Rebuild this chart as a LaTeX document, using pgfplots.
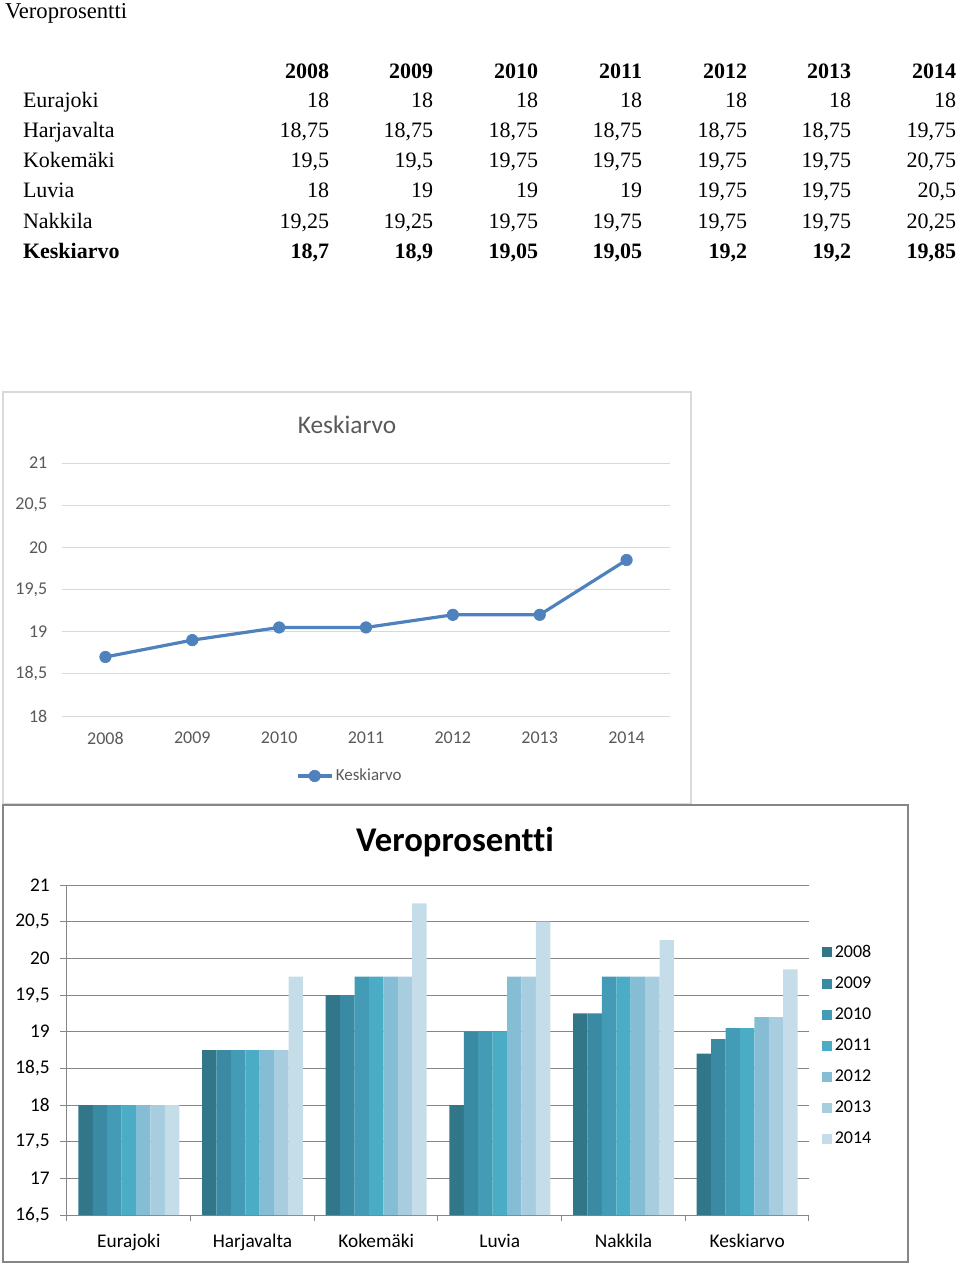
\documentclass[border=0pt]{standalone}
\usepackage{pgfplots}
\pgfplotsset{compat=1.18}
\usepackage{fontspec}
\setmainfont{Liberation Serif}
\newfontfamily\calibri[Ligatures=NoCommon]{Carlito}
\definecolor{c08}{RGB}{49,119,137}
\definecolor{c09}{RGB}{57,138,162}
\definecolor{c10}{RGB}{67,155,182}
\definecolor{c11}{RGB}{75,172,198}
\definecolor{c12}{RGB}{133,190,212}
\definecolor{c13}{RGB}{167,205,222}
\definecolor{c14}{RGB}{197,221,232}
\definecolor{lineblue}{RGB}{79,129,189}
\definecolor{lgrid}{RGB}{217,217,217}
\definecolor{bgrid}{RGB}{134,134,134}
\definecolor{labgrey}{RGB}{89,89,89}
\def\tf{}
\newcommand\trow[9]{%
  \node[anchor=base west,font=\fontsize{16.5}{19}\selectfont\tf] at (23,#1) {#2};
  \node[anchor=base east,font=\fontsize{16.5}{19}\selectfont\tf] at (329,#1) {#3};
  \node[anchor=base east,font=\fontsize{16.5}{19}\selectfont\tf] at (433,#1) {#4};
  \node[anchor=base east,font=\fontsize{16.5}{19}\selectfont\tf] at (538,#1) {#5};
  \node[anchor=base east,font=\fontsize{16.5}{19}\selectfont\tf] at (642,#1) {#6};
  \node[anchor=base east,font=\fontsize{16.5}{19}\selectfont\tf] at (747,#1) {#7};
  \node[anchor=base east,font=\fontsize{16.5}{19}\selectfont\tf] at (851,#1) {#8};
  \node[anchor=base east,font=\fontsize{16.5}{19}\selectfont\tf] at (956,#1) {#9};
}
\begin{document}
\begin{tikzpicture}
\begin{scope}[x=0.75pt,y=-0.75pt,every node/.style={inner sep=0pt,outer sep=0pt}]
\path (0,0) rectangle (960,1264);
\node[anchor=base west,font=\fontsize{17}{20}\selectfont] at (5,18) {Veroprosentti};
\def\tf{\bfseries}
\trow{78}{}{2008}{2009}{2010}{2011}{2012}{2013}{2014}
\def\tf{}
\trow{107}{Eurajoki}{18}{18}{18}{18}{18}{18}{18}
\trow{137.5}{Harjavalta}{18,75}{18,75}{18,75}{18,75}{18,75}{18,75}{19,75}
\trow{167.5}{Kokemäki}{19,5}{19,5}{19,75}{19,75}{19,75}{19,75}{20,75}
\trow{197.5}{Luvia}{18}{19}{19}{19}{19,75}{19,75}{20,5}
\trow{228}{Nakkila}{19,25}{19,25}{19,75}{19,75}{19,75}{19,75}{20,25}
\def\tf{\bfseries}
\trow{258}{Keskiarvo}{18,7}{18,9}{19,05}{19,05}{19,2}{19,2}{19,85}
\def\tf{}
% frames
\draw[lgrid,line width=1.5pt] (3,392) rectangle (691,804);
\draw[bgrid,line width=1.5pt] (3,805) rectangle (908,1262);
% titles
\node[font=\calibri\fontsize{19}{22}\selectfont,text=labgrey] at (347,425) {Keskiarvo};
\node[font=\calibri\bfseries\fontsize{26}{30}\selectfont] at (455,842) {Veroprosentti};
\end{scope}

% line chart
\begin{axis}[
  at={(46.5pt,-537pt)}, anchor=south west, scale only axis,
  width=456pt, height=189.75pt,
  xmin=-0.5, xmax=6.5, ymin=18, ymax=21,
  xtick={0,...,6}, xticklabels={2008,2009,2010,2011,2012,2013,2014},
  ytick={18,18.5,19,19.5,20,20.5,21},
  yticklabels={18,{18,5},19,{19,5},20,{20,5},21},
  axis line style={draw=none}, tick style={draw=none},
  ymajorgrids, grid style={color=lgrid, line width=0.75pt},
  tick label style={font=\calibri\fontsize{13.5}{16}\selectfont, text=labgrey},
  yticklabel style={xshift=-7.5pt},
  xticklabel style={yshift=-8.5pt},
  legend style={at={(0.474,-0.237)}, anchor=center, draw=none, fill=none,
    font=\calibri\fontsize{12.7}{15}\selectfont, text=labgrey, inner sep=0pt},
  legend image code/.code={\draw[mark repeat=2,mark phase=2,#1] plot coordinates {(0pt,0pt) (12.75pt,0pt) (25.5pt,0pt)};},
]
\addplot[color=lineblue, line width=2.4pt, mark=*, mark size=4.3pt,
  mark options={fill=lineblue, line width=0.5pt}]
  coordinates {(0,18.7) (1,18.9) (2,19.05) (3,19.05) (4,19.2) (5,19.2) (6,19.85)};
\addlegendentry{Keskiarvo}
\end{axis}

% bar chart
\begin{axis}[
  at={(50.25pt,-911.25pt)}, anchor=south west, scale only axis,
  width=556.5pt, height=247.5pt,
  ybar=0pt, bar width=10.82pt,
  xmin=-0.5, xmax=5.5, ymin=16.5, ymax=21,
  xtick={0,...,5},
  xticklabels={Eurajoki,Harjavalta,Kokemäki,Luvia,Nakkila,Keskiarvo},
  minor xtick={-0.5,0.5,1.5,2.5,3.5,4.5,5.5},
  major x tick style={draw=none},
  ytick={16.5,17,17.5,18,18.5,19,19.5,20,20.5,21},
  yticklabels={{16,5},17,{17,5},18,{18,5},19,{19,5},20,{20,5},21},
  axis x line*=bottom, axis y line*=left,
  axis line style={-, color=bgrid, line width=0.75pt},
  tick align=outside, major tick length=5pt, minor tick length=4.5pt,
  tick style={color=bgrid, line width=0.75pt},
  ymajorgrids, grid style={color=bgrid, line width=0.75pt},
  tick label style={font=\calibri\fontsize{14.5}{17}\selectfont},
  yticklabel style={xshift=-4.5pt},
  xticklabel style={yshift=-6pt},
  legend style={at={(1.012,0.835)}, anchor=north west, draw=none, fill=none,
    font=\calibri\fontsize{13.5}{15}\selectfont, row sep=9pt},
  legend cell align=left,
  legend image code/.code={\fill[#1] (0pt,-3.75pt) rectangle (7.5pt,3.75pt);},
]
\addplot[fill=c08, draw=none] coordinates {(0,18) (1,18.75) (2,19.5) (3,18) (4,19.25) (5,18.7)};
\addplot[fill=c09, draw=none] coordinates {(0,18) (1,18.75) (2,19.5) (3,19) (4,19.25) (5,18.9)};
\addplot[fill=c10, draw=none] coordinates {(0,18) (1,18.75) (2,19.75) (3,19) (4,19.75) (5,19.05)};
\addplot[fill=c11, draw=none] coordinates {(0,18) (1,18.75) (2,19.75) (3,19) (4,19.75) (5,19.05)};
\addplot[fill=c12, draw=none] coordinates {(0,18) (1,18.75) (2,19.75) (3,19.75) (4,19.75) (5,19.2)};
\addplot[fill=c13, draw=none] coordinates {(0,18) (1,18.75) (2,19.75) (3,19.75) (4,19.75) (5,19.2)};
\addplot[fill=c14, draw=none] coordinates {(0,18) (1,19.75) (2,20.75) (3,20.5) (4,20.25) (5,19.85)};
\legend{2008,2009,2010,2011,2012,2013,2014}
\end{axis}
\end{tikzpicture}
\end{document}
